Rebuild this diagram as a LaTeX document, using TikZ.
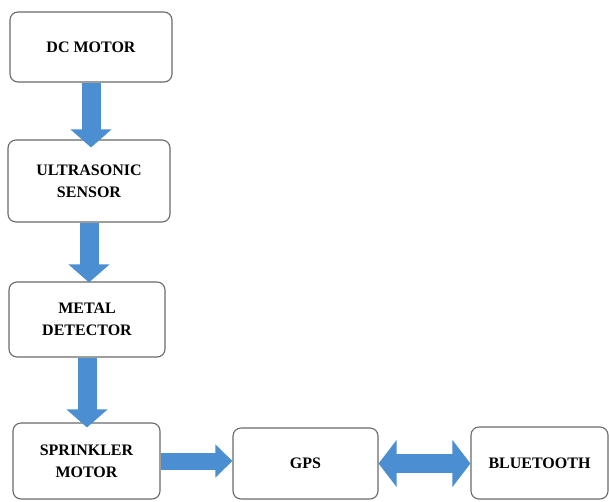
\documentclass[tikz,border=0pt]{standalone}
\usepackage{fontspec}
\setmainfont{Liberation Serif}
\usetikzlibrary{arrows.meta}

\definecolor{flowblue}{RGB}{76,142,210}
\definecolor{boxgray}{RGB}{105,105,105}

\tikzset{
  box/.style={draw=boxgray, line width=1.1pt, rounded corners=8pt, fill=white,
    align=center, inner sep=0pt, font=\fontsize{16}{22}\selectfont\bfseries},
  flow/.style={draw=flowblue, line width=19pt, -{Triangle[width=40pt,length=18pt]}},
}

\begin{document}
\begin{tikzpicture}[x=1pt, y=-1pt]
  \useasboundingbox (0,0) rectangle (609,501);
  % blocks
  \node[box, minimum width=162pt, minimum height=70pt] (dc) at (91,47) {DC MOTOR};
  \node[box, minimum width=162pt, minimum height=82pt] (us) at (89,181) {ULTRASONIC\\SENSOR};
  \node[box, minimum width=156pt, minimum height=75pt] (md) at (87,319.5) {METAL\\DETECTOR};
  \node[box, minimum width=147pt, minimum height=76pt] (sm) at (86.5,461) {SPRINKLER\\MOTOR};
  \node[box, minimum width=145pt, minimum height=71pt] (gps) at (305.5,463.5) {GPS};
  \node[box, minimum width=137pt, minimum height=72pt] (bt) at (539.5,463) {BLUETOOTH};
  % block arrows
  \draw[flow, shorten >=-8pt] (dc.south) -- (dc.south |- us.north);
  \draw[flow, shorten >=-1pt] (us.south) -- (us.south |- md.north);
  \draw[flow, shorten >=-5pt] (md.south) -- (md.south |- sm.north);
  \draw[flow, line width=17pt, -{Triangle[width=32pt,length=17pt]}] (sm.east) -- (sm.east -| gps.west);
  \draw[flow, line width=19pt, {Triangle[width=46pt,length=18pt]}-{Triangle[width=46pt,length=18pt]}] (gps.east) -- (gps.east -| bt.west);
\end{tikzpicture}
\end{document}
